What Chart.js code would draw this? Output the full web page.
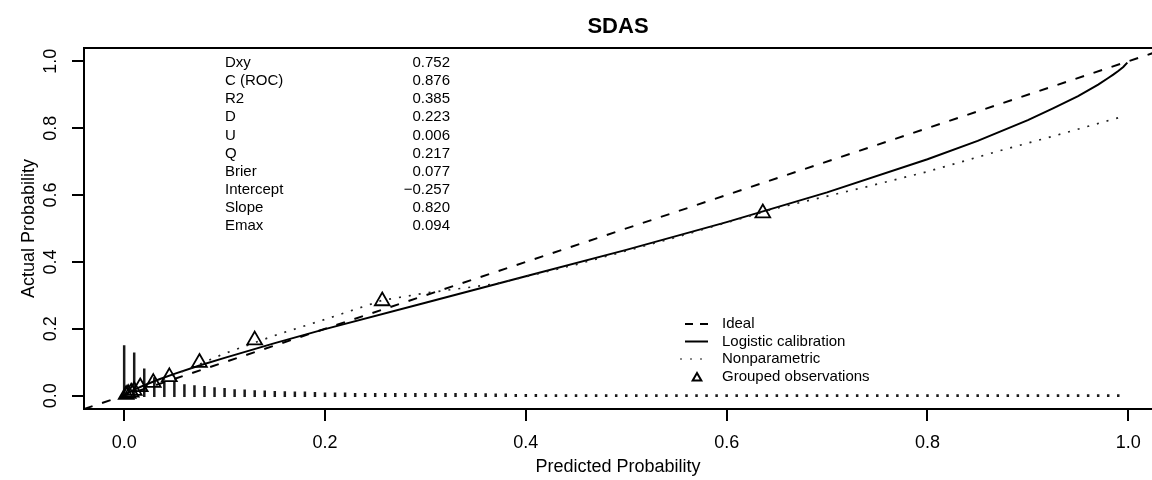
<!DOCTYPE html>
<html>
<head>
<meta charset="utf-8">
<title>SDAS calibration</title>
<script src="https://cdn.jsdelivr.net/npm/chart.js@4.4.0/dist/chart.umd.min.js"></script>
<style>
  html, body { margin: 0; padding: 0; background: #fff; }
  #wrap { width: 1152px; height: 480px; }
</style>
</head>
<body>
<div id="wrap"><canvas id="calChart" width="1152" height="480"></canvas></div>
<script>
const FONT = '"Liberation Sans", Arial, Helvetica, sans-serif';

// axis ticks
const xTicks = [0, 0.2, 0.4, 0.6, 0.8, 1.0];
const yTicks = [0, 0.2, 0.4, 0.6, 0.8, 1.0];

// ideal line (abline 0,1 across the whole plot)
const idealX = [-0.04, 1.04];
const idealY = [-0.04, 1.04];

// logistic calibration curve
const logisticX = [0.002, 0.005, 0.01, 0.02, 0.035, 0.05, 0.075, 0.1, 0.15, 0.2, 0.3, 0.4, 0.5, 0.6, 0.7, 0.8, 0.85, 0.9, 0.925, 0.95, 0.96, 0.97, 0.98, 0.985, 0.99, 0.995, 0.999];
const logisticY = [0.005, 0.010, 0.018, 0.031, 0.049, 0.065, 0.090, 0.113, 0.157, 0.199, 0.278, 0.357, 0.436, 0.519, 0.608, 0.707, 0.762, 0.824, 0.859, 0.896, 0.913, 0.930, 0.950, 0.960, 0.971, 0.983, 0.996];

// nonparametric (dotted) curve
const nonparX = [0.002, 0.01, 0.02, 0.05, 0.1, 0.15, 0.2, 0.257, 0.3, 0.37, 0.45, 0.55, 0.65, 0.74, 0.8, 0.875, 0.93, 0.99];
const nonparY = [0.003, 0.013, 0.026, 0.062, 0.126, 0.180, 0.228, 0.285, 0.307, 0.334, 0.392, 0.474, 0.561, 0.625, 0.670, 0.735, 0.780, 0.831];

// grouped observations (triangles)
const groupX = [0.002, 0.004, 0.007, 0.010, 0.016, 0.029, 0.045, 0.075, 0.130, 0.257, 0.636];
const groupY = [0.003, 0.006, 0.010, 0.015, 0.026, 0.039, 0.056, 0.099, 0.166, 0.283, 0.546];

// spike histogram of predicted probabilities along the bottom
const spikeBase = -0.004;
const spikeX = [
  0.00, 0.01, 0.02, 0.03, 0.04, 0.05, 0.06, 0.07, 0.08, 0.09,
  0.10, 0.11, 0.12, 0.13, 0.14, 0.15, 0.16, 0.17, 0.18, 0.19,
  0.20, 0.21, 0.22, 0.23, 0.24, 0.25, 0.26, 0.27, 0.28, 0.29,
  0.30, 0.31, 0.32, 0.33, 0.34, 0.35, 0.36, 0.37, 0.38, 0.39,
  0.40, 0.41, 0.42, 0.43, 0.44, 0.45, 0.46, 0.47, 0.48, 0.49,
  0.50, 0.51, 0.52, 0.53, 0.54, 0.55, 0.56, 0.57, 0.58, 0.59,
  0.60, 0.61, 0.62, 0.63, 0.64, 0.65, 0.66, 0.67, 0.68, 0.69,
  0.70, 0.71, 0.72, 0.73, 0.74, 0.75, 0.76, 0.77, 0.78, 0.79,
  0.80, 0.81, 0.82, 0.83, 0.84, 0.85, 0.86, 0.87, 0.88, 0.89,
  0.90, 0.91, 0.92, 0.93, 0.94, 0.95, 0.96, 0.97, 0.98, 0.99
];
const spikeTop = [
  0.151, 0.129, 0.081, 0.055, 0.044, 0.041, 0.034, 0.031, 0.029, 0.025,
  0.023, 0.019, 0.018, 0.016, 0.015, 0.014, 0.013, 0.012, 0.012, 0.011,
  0.009, 0.009, 0.009, 0.008, 0.008, 0.008, 0.008, 0.008, 0.008, 0.008,
  0.008, 0.008, 0.008, 0.008, 0.008, 0.008, 0.007, 0.006, 0.006, 0.005,
  0.005, 0.005, 0.004, 0.004, 0.004, 0.004, 0.004, 0.004, 0.004, 0.004,
  0.004, 0.004, 0.004, 0.004, 0.004, 0.004, 0.004, 0.004, 0.004, 0.004,
  0.004, 0.004, 0.004, 0.004, 0.004, 0.004, 0.004, 0.004, 0.004, 0.004,
  0.004, 0.004, 0.004, 0.004, 0.004, 0.004, 0.004, 0.004, 0.004, 0.004,
  0.004, 0.004, 0.004, 0.004, 0.004, 0.004, 0.004, 0.004, 0.004, 0.004,
  0.004, 0.004, 0.004, 0.004, 0.004, 0.004, 0.004, 0.004, 0.004, 0.004
];

// index statistics printed in the upper left
const statLabels = ["Dxy", "C (ROC)", "R2", "D", "U", "Q", "Brier", "Intercept", "Slope", "Emax"];
const statValues = ["0.752", "0.876", "0.385", "0.223", "0.006", "0.217", "0.077", "\u22120.257", "0.820", "0.094"];

const legendLabels = ["Ideal", "Logistic calibration", "Nonparametric", "Grouped observations"];

function toPoints(xs, ys) {
  return xs.map((x, i) => ({ x: x, y: ys[i] }));
}

const spikePoints = [];
spikeX.forEach((x, i) => {
  spikePoints.push({ x: x, y: spikeBase }, { x: x, y: spikeTop[i] }, { x: x, y: null });
});

function drawTriangle(ctx, cx, cy, r) {
  ctx.beginPath();
  for (let k = 0; k < 3; k++) {
    const a = k * 2 * Math.PI / 3;
    const px = cx + Math.sin(a) * r;
    const py = cy - Math.cos(a) * r;
    if (k === 0) ctx.moveTo(px, py); else ctx.lineTo(px, py);
  }
  ctx.closePath();
  ctx.stroke();
}

// top frame line, statistics block and the legend
const notesPlugin = {
  id: "notes",
  afterDraw(chart) {
    const ctx = chart.ctx;
    const a = chart.chartArea;
    ctx.save();
    ctx.strokeStyle = "#000";
    ctx.lineWidth = 2;
    ctx.beginPath();
    ctx.moveTo(a.left - 1, a.top);
    ctx.lineTo(a.right, a.top);
    ctx.stroke();

    ctx.fillStyle = "#000";
    ctx.font = "15px " + FONT;
    ctx.textBaseline = "middle";
    statLabels.forEach((lab, i) => {
      const y = 63 + i * 18.1;
      ctx.textAlign = "left";
      ctx.fillText(lab, 225, y);
      ctx.textAlign = "right";
      ctx.fillText(statValues[i], 450, y);
    });

    // legend
    const rows = [324, 341.5, 359, 377];
    ctx.textAlign = "left";
    legendLabels.forEach((lab, i) => ctx.fillText(lab, 722, rows[i]));

    ctx.lineWidth = 2;
    ctx.setLineDash([8, 7]);
    ctx.beginPath(); ctx.moveTo(685, rows[0]); ctx.lineTo(708, rows[0]); ctx.stroke();
    ctx.setLineDash([]);
    ctx.beginPath(); ctx.moveTo(685, rows[1]); ctx.lineTo(708, rows[1]); ctx.stroke();
    ctx.fillStyle = "#333";
    [681, 691, 701].forEach(x => ctx.fillRect(x - 0.75, rows[2] - 0.75, 1.5, 1.5));
    ctx.lineWidth = 2;
    drawTriangle(ctx, 697, rows[3] + 1, 5);
    ctx.restore();
  }
};

const tickFont = { family: FONT, size: 18 };

new Chart(document.getElementById("calChart"), {
  type: "scatter",
  data: {
    datasets: [
      {
        label: "Grouped observations",
        data: toPoints(groupX, groupY),
        showLine: false,
        pointStyle: "triangle",
        pointRadius: 8.5,
        pointBorderWidth: 1.8,
        pointBorderColor: "#000",
        pointBackgroundColor: "rgba(0,0,0,0)"
      },
      {
        label: "Nonparametric",
        data: toPoints(nonparX, nonparY),
        showLine: true,
        borderColor: "#222",
        borderWidth: 1.7,
        borderDash: [2, 8],
        pointRadius: 0,
        tension: 0
      },
      {
        label: "Logistic calibration",
        data: toPoints(logisticX, logisticY),
        showLine: true,
        borderColor: "#000",
        borderWidth: 2,
        pointRadius: 0,
        tension: 0
      },
      {
        label: "Ideal",
        data: toPoints(idealX, idealY),
        showLine: true,
        borderColor: "#000",
        borderWidth: 2,
        borderDash: [9, 10],
        pointRadius: 0
      },
      {
        label: "Spikes",
        data: spikePoints,
        showLine: true,
        spanGaps: false,
        borderColor: "#1a1a1a",
        borderWidth: 2.5,
        pointRadius: 0
      }
    ]
  },
  options: {
    responsive: false,
    animation: false,
    devicePixelRatio: 1,
    layout: { padding: 0, autoPadding: false },
    plugins: {
      legend: { display: false },
      tooltip: { enabled: false },
      title: {
        display: true,
        text: "SDAS",
        fullSize: false,
        color: "#000",
        font: { family: FONT, size: 22, weight: "bold" },
        padding: { top: 14, bottom: 7.5 }
      }
    },
    scales: {
      x: {
        type: "linear",
        min: -0.04,
        max: 1.0236,
        afterBuildTicks: s => { s.ticks = xTicks.map(v => ({ value: v })); },
        afterFit: s => { s.height = 71; s.paddingLeft = 0; s.paddingRight = 0; },
        ticks: {
          color: "#000",
          font: tickFont,
          padding: 11,
          maxRotation: 0,
          autoSkip: false,
          callback: v => Number(v).toFixed(1)
        },
        grid: { drawOnChartArea: false, drawTicks: true, tickLength: 12, lineWidth: 2, color: "#000" },
        border: { display: true, color: "#000", width: 2 },
        title: {
          display: true,
          text: "Predicted Probability",
          color: "#000",
          font: tickFont,
          padding: { top: 0, bottom: 2 }
        }
      },
      y: {
        type: "linear",
        min: -0.04,
        max: 1.04,
        afterBuildTicks: s => { s.ticks = yTicks.map(v => ({ value: v })); },
        afterFit: s => { s.width = 84; s.paddingTop = 0; s.paddingBottom = 0; },
        ticks: {
          color: "#000",
          font: tickFont,
          padding: 8,
          minRotation: 90,
          maxRotation: 90,
          crossAlign: "center",
          autoSkip: false,
          callback: v => Number(v).toFixed(1)
        },
        grid: { drawOnChartArea: false, drawTicks: true, tickLength: 12, lineWidth: 2, color: "#000" },
        border: { display: true, color: "#000", width: 2 },
        title: {
          display: true,
          text: "Actual Probability",
          color: "#000",
          font: tickFont,
          padding: { top: 18, bottom: 0 }
        }
      }
    }
  },
  plugins: [notesPlugin]
});
</script>
</body>
</html>
